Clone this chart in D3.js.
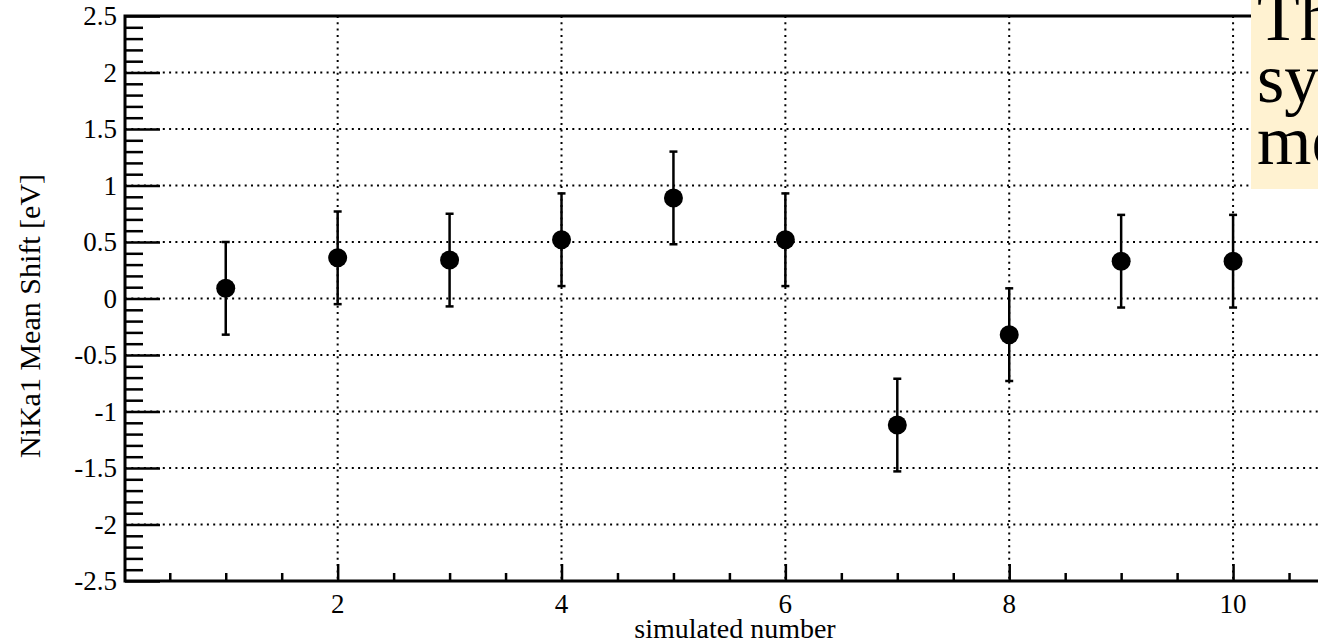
<!DOCTYPE html>
<html>
<head>
<meta charset="utf-8">
<script src="https://cdn.jsdelivr.net/npm/d3@7"></script>
<style>
  html, body { margin: 0; padding: 0; background: #fff; overflow: hidden; }
  svg { display: block; font-family: "Liberation Serif", "Times New Roman", serif; }
</style>
</head>
<body>
<div id="chart"></div>
<script>
const simNumber = [1, 2, 3, 4, 5, 6, 7, 8, 9, 10];
const meanShift = [0.09, 0.36, 0.34, 0.52, 0.89, 0.52, -1.12, -0.32, 0.33, 0.33];
const shiftErr  = [0.41, 0.41, 0.41, 0.41, 0.41, 0.41, 0.41, 0.41, 0.41, 0.41];
const yTicks = [-2.5, -2, -1.5, -1, -0.5, 0, 0.5, 1, 1.5, 2, 2.5];
const xTicks = [2, 4, 6, 8, 10];
const titleLines = ["Th", "sy", "me"];

const W = 1318, H = 642;
const frame = { left: 125, top: 16, right: 1345, bottom: 581 };

const svg = d3.select("#chart").append("svg").attr("width", W).attr("height", H);

const x = d3.scaleLinear().domain([0.1, 11]).range([frame.left, frame.right]);
const y = d3.scaleLinear().domain([-2.5, 2.5]).range([frame.bottom, frame.top]);

// grid
const grid = svg.append("g").attr("stroke", "#000").attr("stroke-width", 2).attr("stroke-dasharray", "2 4.3");
grid.selectAll(".gy").data(yTicks.filter(d => Math.abs(d) < 2.5)).enter().append("line")
  .attr("x1", frame.left).attr("x2", frame.right)
  .attr("y1", d => y(d)).attr("y2", d => y(d));
grid.selectAll(".gx").data(xTicks).enter().append("line")
  .attr("x1", d => x(d)).attr("x2", d => x(d))
  .attr("y1", frame.top).attr("y2", frame.bottom);

// y axis, ticks inside
const yAxis = d3.axisRight(y).tickValues(d3.range(-25, 26).map(d => d / 10)).tickSize(0).tickFormat("");
const yg = svg.append("g").attr("transform", `translate(${frame.left},0)`).call(yAxis);
yg.select(".domain").remove();
yg.selectAll(".tick line")
  .attr("x2", d => Math.abs(d * 2 - Math.round(d * 2)) < 1e-6 ? 35 : 18)
  .attr("stroke", "#000").attr("stroke-width", 2.5);

svg.append("g").selectAll("text").data(yTicks).enter().append("text")
  .attr("x", frame.left - 8).attr("y", d => y(d) + 9)
  .attr("text-anchor", "end").attr("font-size", 27)
  .text(d => d3.format("")(d).replace("−", "-"));

// x axis, ticks inside
const minorX = d3.range(1, 23).map(d => d / 2);
const xg = svg.append("g").attr("transform", `translate(0,${frame.bottom})`)
  .call(d3.axisTop(x).tickValues(minorX).tickSize(0).tickFormat(""));
xg.select(".domain").remove();
xg.selectAll(".tick line")
  .attr("y2", d => d % 2 === 0 ? -17 : -8)
  .attr("stroke", "#000").attr("stroke-width", 2.5);

svg.append("g").selectAll("text").data(xTicks).enter().append("text")
  .attr("x", d => x(d)).attr("y", frame.bottom + 32)
  .attr("text-anchor", "middle").attr("font-size", 27)
  .text(d => d);

// frame
svg.append("rect")
  .attr("x", frame.left).attr("y", frame.top)
  .attr("width", frame.right - frame.left).attr("height", frame.bottom - frame.top)
  .attr("fill", "none").attr("stroke", "#000").attr("stroke-width", 3);

// axis titles
svg.append("text")
  .attr("x", (frame.left + frame.right) / 2).attr("y", 638)
  .attr("text-anchor", "middle").attr("font-size", 28)
  .text("simulated number");
svg.append("text")
  .attr("transform", `translate(40,316) rotate(-90)`)
  .attr("text-anchor", "middle").attr("font-size", 30)
  .text("NiKa1 Mean Shift [eV]");

// error bars and points
const pts = simNumber.map((n, i) => ({ n, v: meanShift[i], e: shiftErr[i] }));
const eb = svg.append("g").attr("stroke", "#000").attr("stroke-width", 2.5);
eb.selectAll(".bar").data(pts).enter().append("line")
  .attr("x1", d => x(d.n)).attr("x2", d => x(d.n))
  .attr("y1", d => y(d.v + d.e)).attr("y2", d => y(d.v - d.e));
eb.selectAll(".capT").data(pts).enter().append("line")
  .attr("x1", d => x(d.n) - 4).attr("x2", d => x(d.n) + 4)
  .attr("y1", d => y(d.v + d.e)).attr("y2", d => y(d.v + d.e));
eb.selectAll(".capB").data(pts).enter().append("line")
  .attr("x1", d => x(d.n) - 4).attr("x2", d => x(d.n) + 4)
  .attr("y1", d => y(d.v - d.e)).attr("y2", d => y(d.v - d.e));
svg.append("g").selectAll("circle").data(pts).enter().append("circle")
  .attr("cx", d => x(d.n)).attr("cy", d => y(d.v)).attr("r", 9.5).attr("fill", "#000");

// title box
const tb = svg.append("g");
tb.append("rect").attr("x", 1251).attr("y", -10).attr("width", 200).attr("height", 199).attr("fill", "#fff2d1");
tb.selectAll("text").data(titleLines).enter().append("text")
  .attr("x", 1257).attr("y", (d, i) => 40 + i * 62)
  .attr("font-size", 70)
  .text(d => d);
</script>
</body>
</html>
